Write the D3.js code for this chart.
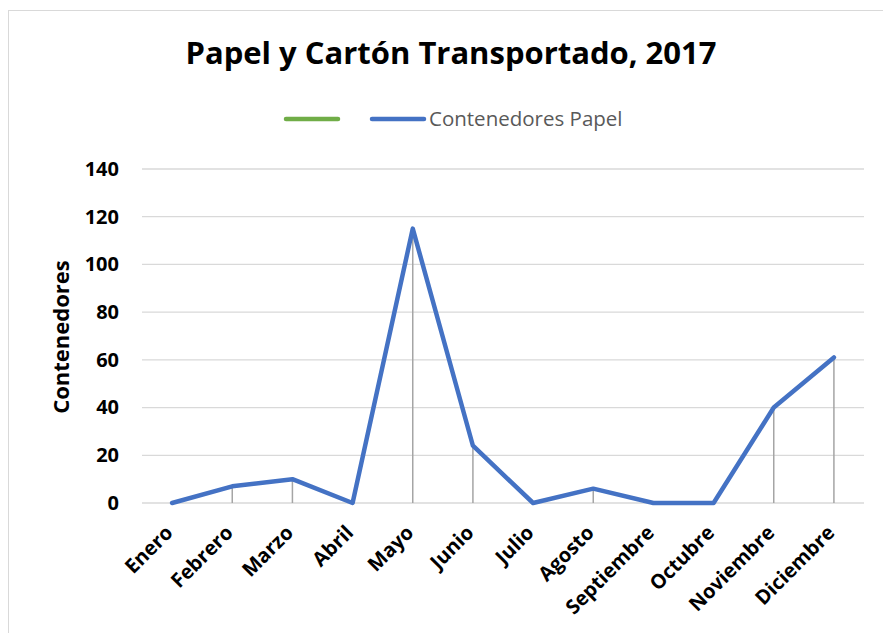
<!DOCTYPE html>
<html>
<head>
<meta charset="utf-8">
<script src="https://cdn.jsdelivr.net/npm/d3@7"></script>
<style>
  body { margin: 0; background: #fff; }
  text { font-family: "Open Sans", "Liberation Sans", sans-serif; }
</style>
</head>
<body>
<div id="chart"></div>
<script>
const months = ['Enero', 'Febrero', 'Marzo', 'Abril', 'Mayo', 'Junio', 'Julio', 'Agosto', 'Septiembre', 'Octubre', 'Noviembre', 'Diciembre'];
const papel = [0, 7, 10, 0, 115, 24, 0, 6, 0, 0, 40, 61];
const yTicks = [0, 20, 40, 60, 80, 100, 120, 140];
const seriesNames = ['', 'Contenedores Papel'];
const seriesColors = ['#70ad47', '#4472c4'];

const width = 883, height = 633;
const margin = {left: 142, right: 19, top: 169, bottom: 130};

let svg = d3.select('#chart').append('svg')
    .attr('width', width).attr('height', height);

// chart frame
svg.append('rect')
    .attr('x', 8.5).attr('y', 10.5)
    .attr('width', 900).attr('height', 700)
    .attr('fill', 'none').attr('stroke', '#d9d9d9').attr('stroke-width', 1);

let x = d3.scaleBand().domain(months).range([margin.left, width - margin.right]);
let y = d3.scaleLinear().domain([0, 140]).range([height - margin.bottom, margin.top]);

// gridlines
svg.append('g').selectAll('line').data(yTicks).enter().append('line')
    .attr('x1', margin.left).attr('x2', width - margin.right)
    .attr('y1', d => y(d)).attr('y2', d => y(d))
    .attr('stroke', '#d9d9d9').attr('stroke-width', 1.3);

// y axis labels
let yAxis = d3.axisLeft(y).tickValues(yTicks).tickSize(0).tickPadding(0);
let yg = svg.append('g').attr('transform', 'translate(' + (margin.left - 23) + ',0)').call(yAxis);
yg.select('.domain').remove();
yg.selectAll('text')
    .attr('font-size', '20px').attr('font-weight', 'bold').attr('fill', '#000')
    .style('font-family', '"Open Sans", sans-serif');

// drop lines
let cx = d => x(d) + x.bandwidth() / 2;
svg.append('g').selectAll('line').data(months).enter().append('line')
    .attr('x1', cx).attr('x2', cx)
    .attr('y1', (d, i) => y(papel[i])).attr('y2', y(0))
    .attr('stroke', '#a5a5a5').attr('stroke-width', 1.5);

// line
let line = d3.line().x((d, i) => cx(months[i])).y(d => y(d));
svg.append('path').datum(papel)
    .attr('d', line)
    .attr('fill', 'none').attr('stroke', seriesColors[1])
    .attr('stroke-width', 4.5).attr('stroke-linejoin', 'round').attr('stroke-linecap', 'round');

// x axis labels
svg.append('g').selectAll('text').data(months).enter().append('text')
    .attr('transform', d => 'translate(' + (cx(d) + 2) + ',' + (y(0) + 31) + ') rotate(-45)')
    .attr('text-anchor', 'end')
    .attr('font-size', '20px').attr('font-weight', 'bold').attr('fill', '#000')
    .text(d => d);

// y axis title
svg.append('text')
    .attr('transform', 'translate(69,' + 337 + ') rotate(-90)')
    .attr('text-anchor', 'middle')
    .attr('font-size', '22px').attr('font-weight', 'bold').attr('fill', '#000')
    .text('Contenedores');

// title
svg.append('text')
    .attr('x', 451).attr('y', 64)
    .attr('text-anchor', 'middle')
    .attr('font-size', '30px').attr('font-weight', 'bold').attr('fill', '#000')
    .attr('textLength', 531).attr('lengthAdjust', 'spacingAndGlyphs')
    .text('Papel y Cartón Transportado, 2017');

// legend
let legendX = [286, 372];
let legend = svg.append('g').selectAll('g').data(seriesNames).enter().append('g');
legend.append('line')
    .attr('x1', (d, i) => legendX[i]).attr('x2', (d, i) => legendX[i] + 52)
    .attr('y1', 119).attr('y2', 119)
    .attr('stroke', (d, i) => seriesColors[i]).attr('stroke-width', 4.5)
    .attr('stroke-linecap', 'round');
legend.append('text')
    .attr('x', (d, i) => legendX[i] + 57).attr('y', 126)
    .attr('font-size', '20.5px').attr('fill', '#595959')
    .text(d => d);
</script>
</body>
</html>
